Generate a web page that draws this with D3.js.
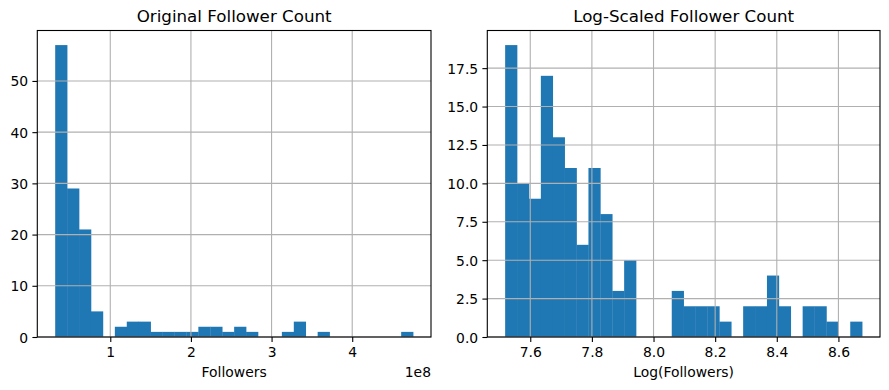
<!DOCTYPE html>
<html>
<head>
<meta charset="utf-8">
<script src="https://cdn.jsdelivr.net/npm/d3@7"></script>
<style>
  html, body { margin: 0; padding: 0; background: #fff; }
  svg { display: block; font-family: "DejaVu Sans", sans-serif; }
</style>
</head>
<body>
<svg id="chart" width="889" height="390"></svg>
<script>
// ---- Data ----
// Original follower counts histogram (30 bins, values in units of 1e8)
const origCounts = [57, 29, 21, 5, 0, 2, 3, 3, 1, 1, 1, 1, 2, 2, 1, 2, 1, 0, 0, 1, 3, 0, 1, 0, 0, 0, 0, 0, 0, 1];
const origRange = [0.317, 4.755];
const origXTicks = [1, 2, 3, 4];
const origYTicks = [0, 10, 20, 30, 40, 50];

// Log-scaled follower counts histogram (30 bins)
const logCounts = [19, 10, 9, 17, 13, 11, 6, 11, 8, 3, 5, 0, 0, 0, 3, 2, 2, 2, 1, 0, 2, 2, 4, 2, 0, 2, 2, 1, 0, 1];
const logRange = [7.5185, 8.677];
const logXTicks = [7.6, 7.8, 8.0, 8.2, 8.4, 8.6];
const logYTicks = [0, 2.5, 5, 7.5, 10, 12.5, 15, 17.5];

const titles = ["Original Follower Count", "Log-Scaled Follower Count"];
const xLabels = ["Followers", "Log(Followers)"];

// ---- Drawing ----
const svg = d3.select("#chart");
const barColor = "#1f77b4";
const gridColor = "#b0b0b0";
const tickFont = 13.9;

function drawPanel(cfg) {
  const { x0, x1, y0, y1, counts, range, xTicks, yTicks, xFmt, yFmt, title, xLabel, offsetText } = cfg;
  const n = counts.length;
  const r = range[1] - range[0];
  const x = d3.scaleLinear().domain([range[0] - 0.05 * r, range[1] + 0.05 * r]).range([x0, x1]);
  const y = d3.scaleLinear().domain([0, d3.max(counts) * 1.05]).range([y1, y0]);
  const bw = r / n;
  const bins = counts.map((c, i) => ({ a: range[0] + i * bw, b: range[0] + (i + 1) * bw, c }));

  const g = svg.append("g");

  // bars
  g.selectAll("rect.bar").data(bins.filter(d => d.c > 0)).join("rect")
    .attr("class", "bar")
    .attr("x", d => x(d.a))
    .attr("width", d => x(d.b) - x(d.a) + 0.3)
    .attr("y", d => y(d.c))
    .attr("height", d => y(0) - y(d.c))
    .attr("fill", barColor);

  // grid (above patches, as matplotlib default)
  g.selectAll("line.gx").data(xTicks).join("line")
    .attr("x1", d => x(d)).attr("x2", d => x(d))
    .attr("y1", y0).attr("y2", y1)
    .attr("stroke", gridColor).attr("stroke-width", 1.1);
  g.selectAll("line.gy").data(yTicks).join("line")
    .attr("x1", x0).attr("x2", x1)
    .attr("y1", d => y(d)).attr("y2", d => y(d))
    .attr("stroke", gridColor).attr("stroke-width", 1.1);

  // axes
  const xAxis = d3.axisBottom(x).tickValues(xTicks).tickFormat(xFmt).tickSizeInner(4.9).tickSizeOuter(0).tickPadding(4.2);
  const yAxis = d3.axisLeft(y).tickValues(yTicks).tickFormat(yFmt).tickSizeInner(4.9).tickSizeOuter(0).tickPadding(4.2);
  const gx = g.append("g").attr("transform", `translate(0,${y1})`).call(xAxis);
  const gy = g.append("g").attr("transform", `translate(${x0},0)`).call(yAxis);
  [gx, gy].forEach(a => {
    a.select(".domain").remove();
    a.selectAll(".tick line").attr("stroke", "#000").attr("stroke-width", 1.1);
    a.selectAll(".tick text").attr("fill", "#000").attr("font-size", tickFont)
      .attr("font-family", "DejaVu Sans, sans-serif");
  });
  gx.selectAll(".tick text").attr("dy", null).attr("y", 20.2);
  gy.selectAll(".tick text").attr("dy", "0.36em");

  // spines
  g.append("rect").attr("x", x0).attr("y", y0).attr("width", x1 - x0).attr("height", y1 - y0)
    .attr("fill", "none").attr("stroke", "#000").attr("stroke-width", 1.1);

  // title
  g.append("text").attr("x", (x0 + x1) / 2).attr("y", 22.3).attr("text-anchor", "middle")
    .attr("font-size", 16.7).attr("fill", "#000").text(title);
  // x label
  g.append("text").attr("x", (x0 + x1) / 2).attr("y", 377).attr("text-anchor", "middle")
    .attr("font-size", tickFont).attr("fill", "#000").text(xLabel);
  if (offsetText) {
    g.append("text").attr("x", x1).attr("y", 376.7).attr("text-anchor", "end")
      .attr("font-size", tickFont).attr("fill", "#000").text(offsetText);
  }
}

drawPanel({
  x0: 37.3, x1: 431, y0: 30.5, y1: 337,
  counts: origCounts, range: origRange,
  xTicks: origXTicks, yTicks: origYTicks,
  xFmt: d3.format("d"), yFmt: d3.format("d"),
  title: titles[0], xLabel: xLabels[0], offsetText: "1e8"
});

drawPanel({
  x0: 487.3, x1: 880, y0: 30.5, y1: 337,
  counts: logCounts, range: logRange,
  xTicks: logXTicks, yTicks: logYTicks,
  xFmt: d3.format(".1f"), yFmt: d3.format(".1f"),
  title: titles[1], xLabel: xLabels[1], offsetText: null
});
</script>
</body>
</html>
